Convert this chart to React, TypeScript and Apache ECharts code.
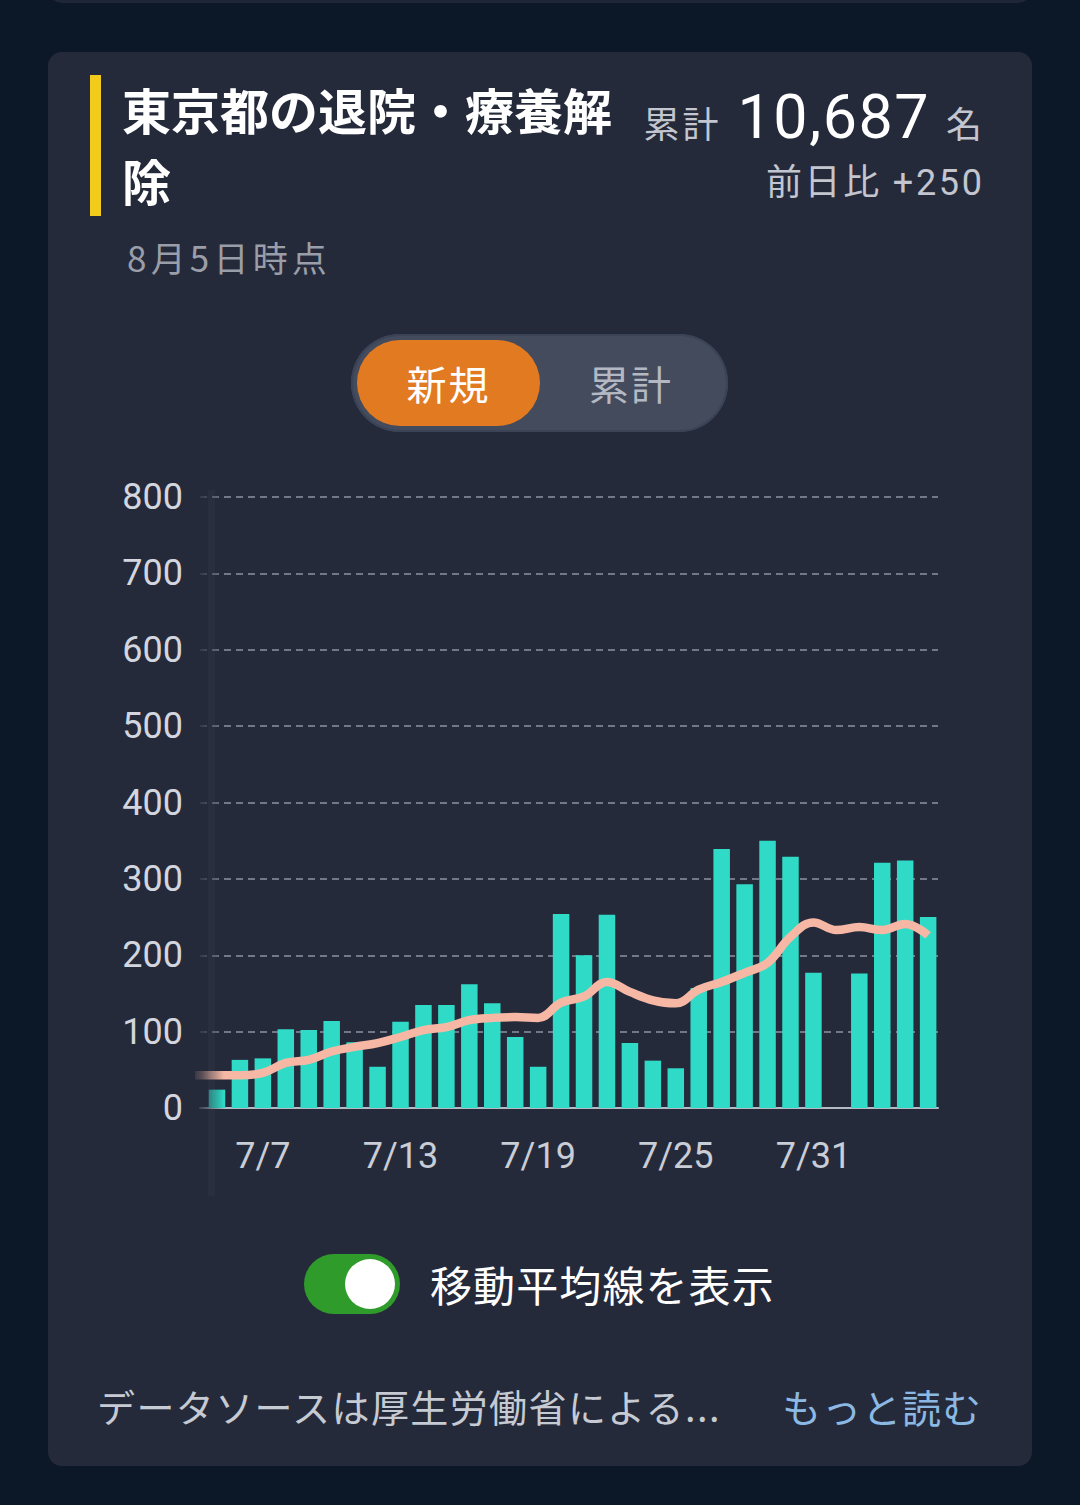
import React, { useEffect, useRef } from "react";
import * as echarts from "echarts";

const dates = [
  "7/5", "7/6", "7/7", "7/8", "7/9", "7/10", "7/11", "7/12", "7/13", "7/14",
  "7/15", "7/16", "7/17", "7/18", "7/19", "7/20", "7/21", "7/22", "7/23", "7/24",
  "7/25", "7/26", "7/27", "7/28", "7/29", "7/30", "7/31", "8/1", "8/2", "8/3",
  "8/4", "8/5",
];
const daily: (number | null)[] = [
  24, 63, 65, 103, 102, 114, 86, 54, 113, 135,
  135, 162, 137, 93, 54, 254, 200, 253, 85, 62,
  52, 157, 339, 293, 350, 329, 177, 0, 176, 321,
  324, 250,
];
// 7-day moving average; first value is 7/4 (just left of the visible window)
const movingAvg = [
  43, 43, 43, 46, 59, 63, 74, 80, 85, 93,
  102, 106, 115, 118, 119, 118, 138, 146, 165, 152,
  141, 137, 155, 165, 177, 190, 224, 243, 233, 237,
  233, 241, 226,
];
const xLabelDays = [2, 8, 14, 20, 26];
const yTicks = { min: 0, max: 800, interval: 100 };

const CARD = "#252a3b";
const JP = '"Noto Sans CJK JP", "Noto Sans", sans-serif';

function Chart() {
  const ref = useRef<HTMLDivElement>(null);
  useEffect(() => {
    if (!ref.current) return;
    const chart = echarts.init(ref.current, null, { renderer: "svg" });
    chart.setOption({
      animation: false,
      grid: { left: 200, right: 142, top: 37, bottom: 112 },
      xAxis: {
        type: "value",
        min: -0.74,
        max: 31.43,
        axisLine: { show: true, lineStyle: { color: "#b4b9c4", width: 2 } },
        axisTick: { show: false },
        splitLine: { show: false },
        axisLabel: {
          customValues: xLabelDays,
          formatter: (v: number) => dates[Math.round(v)] ?? "",
          color: "#c9cdd6",
          fontSize: 36,
          fontFamily: "Roboto",
          margin: 30,
        },
      },
      yAxis: {
        type: "value",
        min: yTicks.min,
        max: yTicks.max,
        interval: yTicks.interval,
        axisLine: { show: false },
        axisTick: { show: false },
        axisLabel: {
          color: "#d3d6de",
          fontSize: 36,
          fontFamily: "Roboto",
          margin: 17,
        },
        splitLine: {
          show: true,
          lineStyle: { color: "#727888", width: 2, type: [7, 5] },
        },
      },
      series: [
        {
          type: "bar",
          barWidth: 16.5,
          itemStyle: { color: "#2fdbc7" },
          data: daily.map((v, i) => [i, v === null ? "-" : v]),
          z: 2,
        },
        {
          type: "line",
          smooth: 0.4,
          showSymbol: false,
          lineStyle: { color: "#f6b8a4", width: 8.5 },
          data: movingAvg.map((v, i) => [i - 1, v]),
          z: 3,
        },
      ],
      graphic: [
        {
          type: "rect",
          shape: { x: 190, y: 30, width: 34, height: 706 },
          style: {
            fill: new echarts.graphic.LinearGradient(0, 0, 1, 0, [
              { offset: 0, color: "rgba(37,42,59,1)" },
              { offset: 0.35, color: "rgba(37,42,59,0.75)" },
              { offset: 1, color: "rgba(37,42,59,0)" },
            ]),
          },
          z: 100,
        },
        {
          type: "rect",
          shape: { x: 208, y: 30, width: 7, height: 706 },
          style: { fill: "rgba(255,255,255,0.025)" },
          z: 101,
        },
      ],
    });
    return () => chart.dispose();
  }, []);
  return (
    <div
      ref={ref}
      style={{ position: "absolute", left: 0, top: 460, width: 1080, height: 760 }}
    />
  );
}

export default function App() {
  useEffect(() => {
    document.body.style.margin = "0";
  }, []);
  const abs = (s: React.CSSProperties): React.CSSProperties => ({ position: "absolute", ...s });
  return (
    <div
      style={{
        position: "fixed",
        left: 0,
        top: 0,
        width: 1080,
        height: 1505,
        background: "#0c1827",
        overflow: "hidden",
        fontFamily: JP,
      }}
    >
      <div style={abs({ left: 48, top: -30, width: 984, height: 33, background: "#1f2637", borderRadius: 14 })} />
      <div style={abs({ left: 48, top: 52, width: 984, height: 1414, background: CARD, borderRadius: 14 })} />
      <div style={abs({ left: 90, top: 75, width: 11, height: 141, background: "#f3cb1d" })} />
      <div
        style={abs({
          left: 122,
          top: 73,
          width: 500,
          fontSize: 49,
          lineHeight: "71px",
          fontWeight: 700,
          color: "#ffffff",
        })}
      >
        東京都の退院・療養解除
      </div>
      <div
        style={abs({
          right: 1080 - 982,
          top: 81,
          display: "flex",
          alignItems: "baseline",
          color: "#c3c6ce",
          whiteSpace: "nowrap",
        })}
      >
        <span style={{ fontSize: 36, letterSpacing: 3 }}>累計</span>
        <span style={{ fontSize: 61, fontFamily: "Roboto", color: "#ffffff", letterSpacing: 1.5, margin: "0 16px 0 16px" }}>10,687</span>
        <span style={{ fontSize: 36 }}>名</span>
      </div>
      <div
        style={abs({
          right: 1080 - 982,
          top: 155,
          fontSize: 36,
          lineHeight: "48px",
          color: "#c3c6ce",
          whiteSpace: "nowrap",
          letterSpacing: 2.7,
          marginRight: -2.7,
        })}
      >
        前日比 <span style={{ fontFamily: "Roboto" }}>+250</span>
      </div>
      <div style={abs({ left: 127, top: 233, fontSize: 35, lineHeight: "48px", color: "#9a9ea8", letterSpacing: 4.2 })}>8月5日時点</div>

      <div
        style={abs({
          left: 351,
          top: 334,
          width: 377,
          height: 98,
          borderRadius: 49,
          background: "#434b5d",
          boxShadow: "inset 0 0 0 2px #3b4357",
        })}
      />
      <div style={abs({ left: 357, top: 340, width: 183, height: 86, borderRadius: 43, background: "#e27a22" })} />
      <div
        style={abs({
          left: 357,
          top: 340,
          width: 183,
          height: 86,
          lineHeight: "86px",
          textAlign: "center",
          fontSize: 40,
          color: "#ffffff",
          letterSpacing: 2,
        })}
      >
        新規
      </div>
      <div
        style={abs({
          left: 540,
          top: 340,
          width: 182,
          height: 86,
          lineHeight: "86px",
          textAlign: "center",
          fontSize: 40,
          color: "#b3b8c3",
          letterSpacing: 2,
        })}
      >
        累計
      </div>

      <Chart />

      <div style={abs({ left: 304, top: 1254, width: 96, height: 60, borderRadius: 30, background: "#2f9b2b" })} />
      <div style={abs({ left: 345, top: 1259, width: 50, height: 50, borderRadius: 25, background: "#ffffff" })} />
      <div style={abs({ left: 430, top: 1256, fontSize: 42, lineHeight: "56px", color: "#ffffff", whiteSpace: "nowrap", letterSpacing: 1.1 })}>
        移動平均線を表示
      </div>

      <div style={abs({ left: 97, top: 1381, fontSize: 38, lineHeight: "50px", color: "#c6cad3", whiteSpace: "nowrap", letterSpacing: 1.4 })}>
        データソースは厚生労働省による...
      </div>
      <div
        style={abs({
          right: 1080 - 981,
          top: 1381,
          fontSize: 39,
          lineHeight: "50px",
          color: "#8cb9e3",
          whiteSpace: "nowrap",
          letterSpacing: 1,
          marginRight: -1,
        })}
      >
        もっと読む
      </div>
    </div>
  );
}
